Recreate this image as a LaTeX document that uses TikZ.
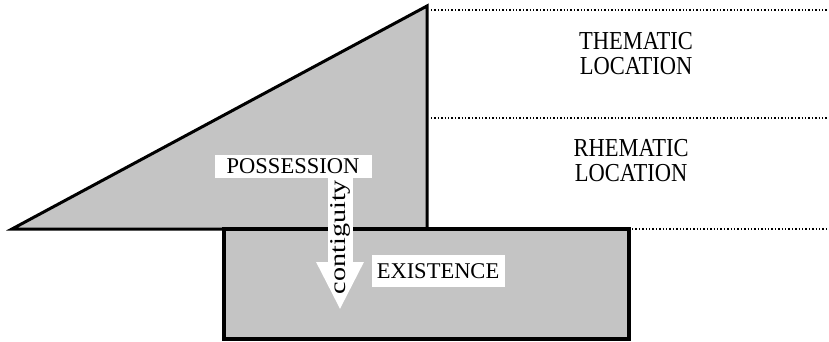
\documentclass[tikz,border=0pt]{standalone}
\usepackage{fontspec}
\setmainfont{Liberation Serif}
\usetikzlibrary{arrows.meta, positioning}

\begin{document}
\begin{tikzpicture}[x=1pt, y=-1pt,
  area/.style={draw, fill=black!23, line width=3pt, line join=miter},
  lbl/.style={font=\fontsize{22.5}{21}\selectfont, align=center, inner sep=2pt},
  tag/.style={lbl, fill=white},
  level/.style={dotted, line width=1.4pt},
  arr/.style={white, line width=25pt, -{Triangle[width=44pt, length=48pt]}}
]
\useasboundingbox (0,0) rectangle (829,342);
% possession wedge and existence block
\draw[area] (12,229) -- (427,6) -- (427,229) -- cycle;
\draw[area, line width=3.5pt] (224,229) rectangle (629,339);
% levels on the right
\draw[level] (431,10) -- (829,10);
\draw[level] (431,118) -- (829,118);
\draw[level] (632,229) -- (829,229);
\node[lbl] (them) at (636,54) {\scalebox{1}[1.15]{THEMATIC}\\[4pt]\scalebox{1}[1.15]{LOCATION}};
\node[lbl] (rhem) at (631,161) {\scalebox{1}[1.15]{RHEMATIC}\\[4pt]\scalebox{1}[1.15]{LOCATION}};
% labels in the shapes
\node[tag, minimum width=157pt, minimum height=23pt] (poss) at (293,166) {POSSESSION};
\node[tag, minimum width=133pt, minimum height=32pt] (exist) at (438,271) {EXISTENCE};
\coordinate (tip) at (340,310);
\draw[arr] (poss.south -| tip) -- (tip);
\node[lbl, rotate=90] (cont) at (340,237) {\scalebox{1.25}[1]{contiguity}};
\end{tikzpicture}
\end{document}
